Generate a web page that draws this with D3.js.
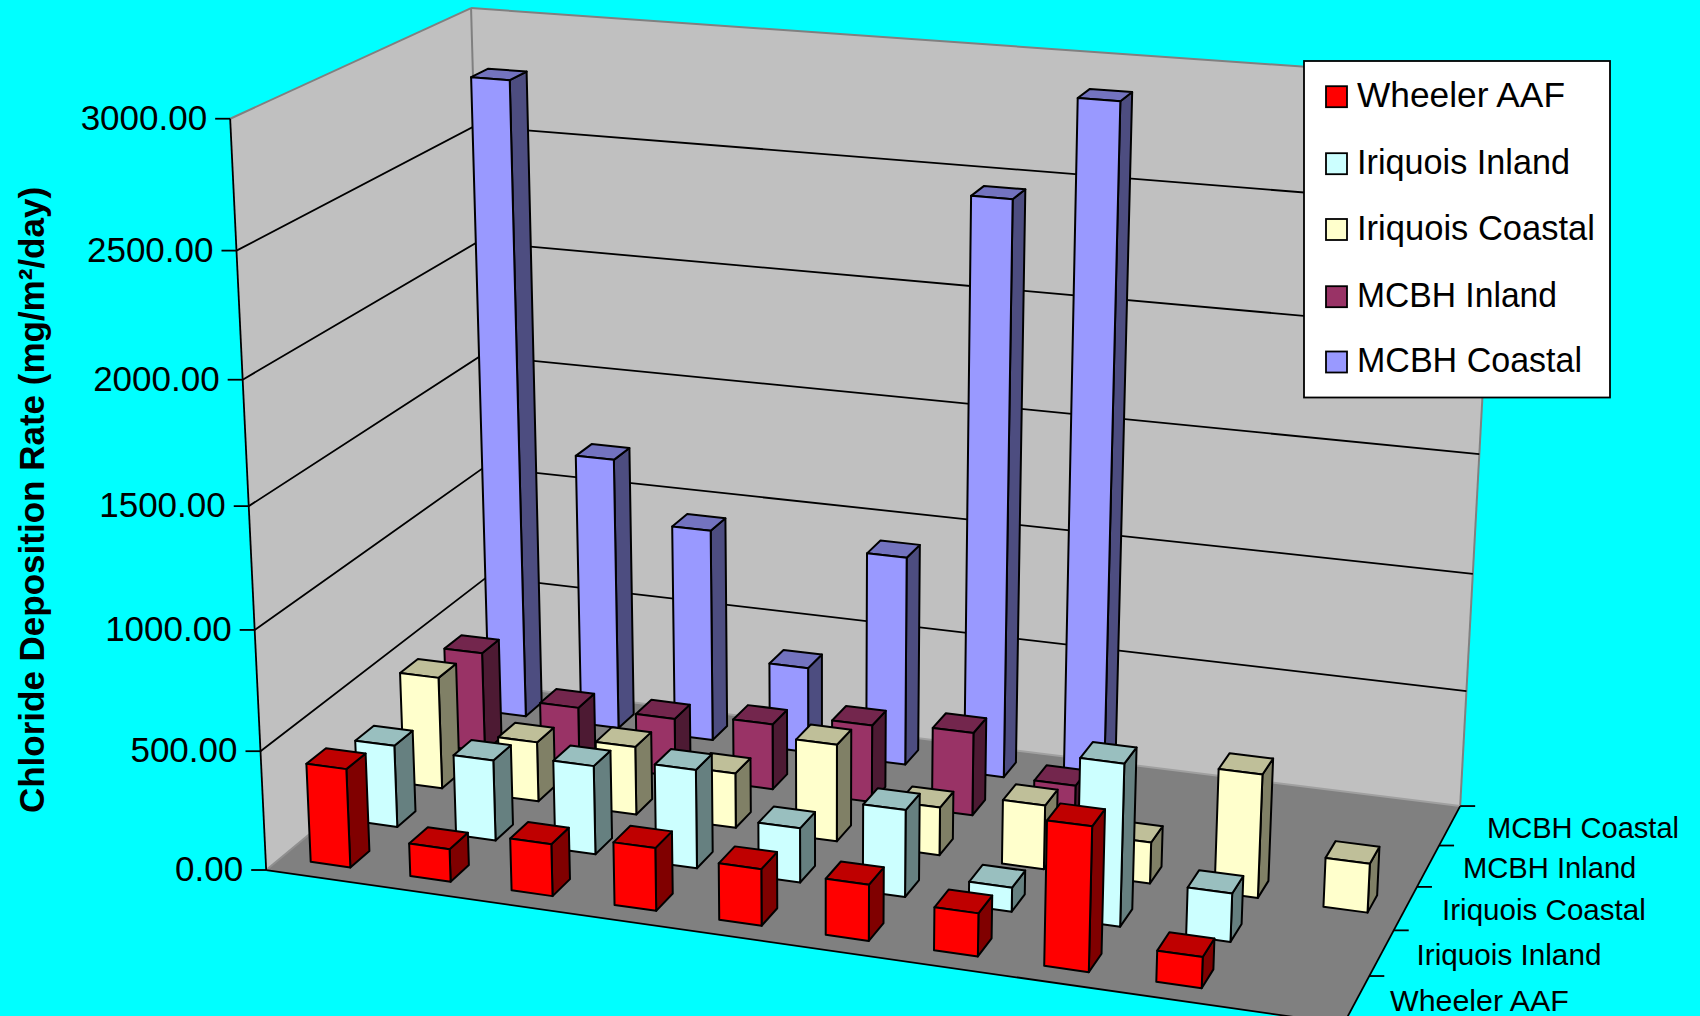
<!DOCTYPE html>
<html><head><meta charset="utf-8">
<script src="https://cdn.jsdelivr.net/npm/d3@7/dist/d3.min.js"></script>
<style>html,body{margin:0;padding:0;background:#00ffff;overflow:hidden}svg{display:block}text{font-family:"Liberation Sans",Arial,sans-serif;fill:#000}</style>
</head><body><svg id="c" width="1700" height="1016"></svg>
<script>
const seriesNames=["Wheeler AAF","Iriquois Inland","Iriquois Coastal","MCBH Inland","MCBH Coastal"];
const seriesColors=["#FF0000","#CCFFFF","#FFFFCC","#993366","#9999FF"];
const sampleSlots=[0,1,2,3,4,5,6,7,8,9];
const wheelerAAF=[415,137,217,260,233,230,175,583,125,null];
const iriquoisInland=[350,343,375,415,228,362,100,665,198,null];
const iriquoisCoastal=[485,258,293,235,413,203,269,172,512,203];
const mcbhInland=[440,250,255,285,335,357,185,null,null,null];
const mcbhCoastal=[2780,1200,935,377,912,2455,2880,null,null,null];
const seriesValues=[wheelerAAF,iriquoisInland,iriquoisCoastal,mcbhInland,mcbhCoastal];
const yTicks=[0,500,1000,1500,2000,2500,3000];

// camera calibration: unit-box corner -> screen point
const calib=[[0,0,0,267,870.7],[0,1,0,229.6,119],[0,1,1,470.7,8.3],[0,0,1,490,685],[1,0,1,1461,806.7],[1,1,1,1501,82],[1,0,0,1343,1025],
[0,.5,0,249,504.3],[1,1/6,1,1466,691],[1,1/3,1,1472,572],[1,.5,1,1479,453]];
function solveCamera(pts){
  const rows=[],rhs=[];
  pts.forEach(([x,y,z,u,v])=>{
    rows.push([x,y,z,1,0,0,0,0,-u*x,-u*y,-u*z]);rhs.push(u);
    rows.push([0,0,0,0,x,y,z,1,-v*x,-v*y,-v*z]);rhs.push(v);
  });
  const n=11,M=d3.range(n).map(i=>d3.range(n+1).map(j=>{
    let s=0;rows.forEach((r,k)=>{s+=r[i]*(j<n?r[j]:rhs[k]);});return s;}));
  for(let i=0;i<n;i++){
    let p=i;for(let k=i+1;k<n;k++)if(Math.abs(M[k][i])>Math.abs(M[p][i]))p=k;
    [M[i],M[p]]=[M[p],M[i]];
    for(let k=0;k<n;k++){if(k===i)continue;const f=M[k][i]/M[i][i];for(let j=i;j<=n;j++)M[k][j]-=f*M[i][j];}
  }
  return d3.range(n).map(i=>M[i][n]/M[i][i]);
}
const h=solveCamera(calib);
function proj(x,y,z){const w=h[8]*x+h[9]*y+h[10]*z+1;
  return [(h[0]*x+h[1]*y+h[2]*z+h[3])/w,(h[4]*x+h[5]*y+h[6]*z+h[7])/w];}

const xBand=d3.scaleBand().domain(sampleSlots).range([0,1]).paddingInner(.6).paddingOuter(.3);
const zBand=d3.scaleBand().domain(d3.range(5)).range([0,1]).paddingInner(.6).paddingOuter(.3);
const yScale=d3.scaleLinear().domain([0,3000]).range([0,1]);
const svg=d3.select("#c");
svg.append("rect").attr("width",1700).attr("height",1016).attr("fill","#00ffff");
const line=d3.line();
const poly=(pts,fill,stroke,sw)=>svg.append("path").attr("d",line(pts.map(p=>proj(...p)))+"Z").attr("fill",fill).attr("stroke",stroke||"none").attr("stroke-width",sw||0).attr("stroke-linejoin","round");
const seg=(a,b,stroke,sw)=>svg.append("path").attr("d",line([proj(...a),proj(...b)])).attr("fill","none").attr("stroke",stroke).attr("stroke-width",sw);

// walls and floor
poly([[0,0,0],[0,1,0],[0,1,1],[0,0,1]],"#c0c0c0");
poly([[0,0,1],[0,1,1],[1,1,1],[1,0,1]],"#c0c0c0");
poly([[0,0,0],[1,0,0],[1,0,1],[0,0,1]],"#808080");
seg([0,1,0],[0,1,1],"#808080",2);seg([0,1,1],[1,1,1],"#808080",2);seg([1,0,1],[1,1,1],"#808080",2);seg([0,0,1],[0,1,1],"#808080",2);
seg([0,0,0],[0,0,1],"#909090",2);seg([0,0,1],[1,0,1],"#a0a0a0",2);
yTicks.slice(1,-1).forEach(t=>{const y=yScale(t);
  svg.append("path").attr("d",line([proj(0,y,0),proj(0,y,1),proj(1,y,1)])).attr("fill","none").attr("stroke","#000").attr("stroke-width",1.8);});
seg([0,0,0],[0,1,0],"#000",1.8);seg([0,0,0],[1,0,0],"#000",1.8);seg([1,0,0],[1,0,1],"#000",1.8);
// y axis ticks + labels
yTicks.forEach(t=>{const p=proj(0,yScale(t),0);
  svg.append("path").attr("d",line([[p[0]-15,p[1]],p])).attr("stroke","#000").attr("stroke-width",1.8).attr("fill","none");
  svg.append("text").attr("x",p[0]-23).attr("y",p[1]+11).attr("text-anchor","end").attr("font-size",35).text(t.toFixed(2));});
// depth axis
const rowLabelPos=[[1390,1010.5,178.9],[1416.6,964.5,184.8],[1442,919.5,203.8],[1463,877.5,173.3],[1487,837.5,192]];
d3.range(1,6).forEach(i=>{const p=proj(1,0,i/5);
  svg.append("path").attr("d",line([p,[p[0]+15,p[1]]])).attr("stroke","#000").attr("stroke-width",1.8).attr("fill","none");});
seriesNames.forEach((s,i)=>svg.append("text").attr("x",rowLabelPos[i][0]).attr("y",rowLabelPos[i][1]).attr("font-size",29.5).attr("textLength",rowLabelPos[i][2]).attr("lengthAdjust","spacingAndGlyphs").text(s));
// bars
const shade=(c,k)=>{const r=d3.rgb(c);return d3.rgb(r.r*k,r.g*k,r.b*k).formatHex();};
d3.range(4,-1,-1).forEach(si=>{
  seriesValues[si].forEach((v,ci)=>{
    if(v==null)return;
    const x0=xBand(ci),x1=x0+xBand.bandwidth(),z0=zBand(si),z1=z0+zBand.bandwidth(),y=yScale(v),c=seriesColors[si];
    const g=[[x1,0,z0],[x1,0,z1],[x1,y,z1],[x1,y,z0]];
    poly(g,shade(c,.5),"#000",2);
    poly([[x0,y,z0],[x1,y,z0],[x1,y,z1],[x0,y,z1]],shade(c,.75),"#000",2);
    poly([[x0,0,z0],[x1,0,z0],[x1,y,z0],[x0,y,z0]],c,"#000",2);
  });
});
// axis title
svg.append("text").attr("transform","translate(43.5,500) rotate(-90)").attr("text-anchor","middle").attr("font-size",35).attr("font-weight","bold").text("Chloride Deposition Rate (mg/m²/day)");
// legend
svg.append("rect").attr("x",1304).attr("y",61).attr("width",306).attr("height",336.5).attr("fill","#fff").attr("stroke","#000").attr("stroke-width",1.8);
const legY=[96.7,163.7,229.5,296.7,362],legB=[106.7,174,239.5,307,371.7],legW=[208,213,238,200,225],legX=[1357,1357,1357,1357,1357];
seriesNames.forEach((s,i)=>{
  svg.append("rect").attr("x",1326).attr("y",legY[i]-10.5).attr("width",21).attr("height",21).attr("fill",seriesColors[i]).attr("stroke","#000").attr("stroke-width",1.8);
  svg.append("text").attr("x",legX[i]).attr("y",legB[i]).attr("font-size",35).attr("textLength",legW[i]).attr("lengthAdjust","spacingAndGlyphs").text(s);
});
</script></body></html>
